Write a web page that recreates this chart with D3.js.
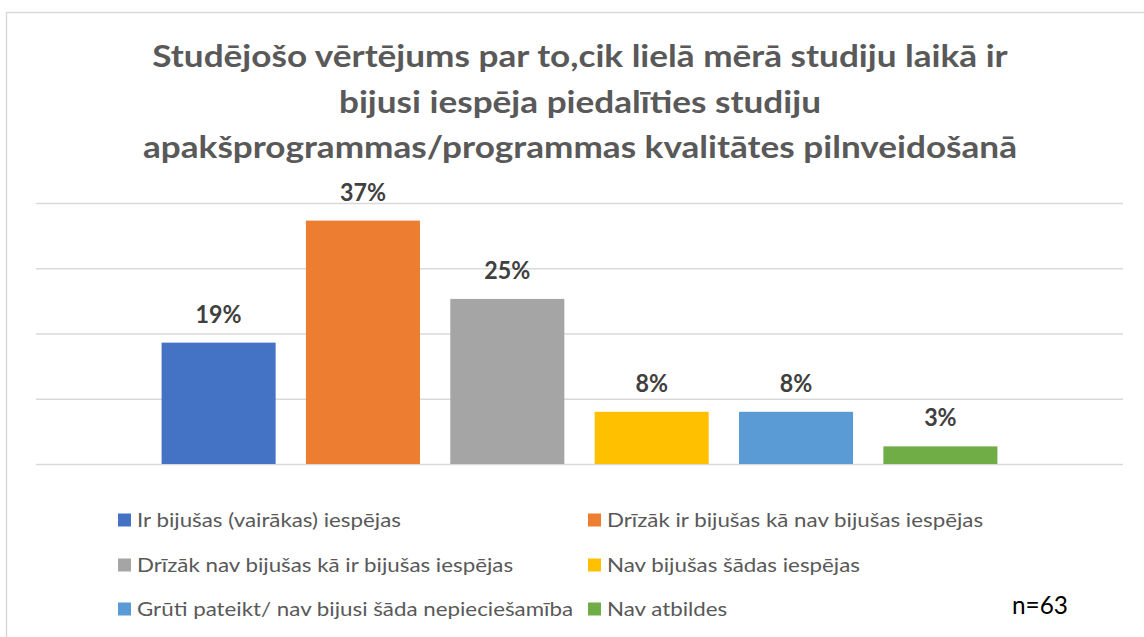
<!DOCTYPE html>
<html>
<head>
<meta charset="utf-8">
<script src="https://cdn.jsdelivr.net/npm/d3@7"></script>
<style>
  body { margin: 0; background: #fff; }
  svg { display: block; font-family: Lato, "Open Sans", sans-serif; }
</style>
</head>
<body>
<div id="chart"></div>
<script>
// data
const categories = [
  "Ir bijušas (vairākas) iespējas",
  "Drīzāk ir bijušas kā nav bijušas iespējas",
  "Drīzāk nav bijušas kā ir bijušas iespējas",
  "Nav bijušas šādas iespējas",
  "Grūti pateikt/ nav bijusi šāda nepieciešamība",
  "Nav atbildes"
];
const values = [18.6, 37.3, 25.3, 8.0, 8.0, 2.7];
const colors = ["#4472C4", "#ED7D31", "#A5A5A5", "#FFC000", "#5B9BD5", "#70AD47"];
const yTicks = [0, 10, 20, 30, 40];
const titleLines = [
  "Studējošo vērtējums par to,cik lielā mērā studiju laikā ir",
  "bijusi iespēja piedalīties studiju",
  "apakšprogrammas/programmas kvalitātes pilnveidošanā"
];
const noteText = "n=63";

const width = 1144, height = 637;
const plot = { left: 36, right: 1123, top: 203, bottom: 464 };

// squeeze a group of texts so the reference one hits a target width
function squeeze(sel, size, refIndex, target) {
  sel.attr("font-size", size);
  var k = target / sel.nodes()[refIndex].getComputedTextLength();
  sel.each(function () {
    var w = this.getComputedTextLength();
    d3.select(this)
      .attr("textLength", w * k)
      .attr("lengthAdjust", "spacingAndGlyphs");
  });
}

const svg = d3.select("#chart").append("svg")
  .attr("width", width)
  .attr("height", height);

// outer chart frame (only top/left visible in the crop)
svg.append("rect")
  .attr("x", 6.5).attr("y", 12.5)
  .attr("width", 1200).attr("height", 700)
  .attr("fill", "#fff")
  .attr("stroke", "#D9D9D9")
  .attr("stroke-width", 1.5);

const x = d3.scaleBand()
  .domain(categories)
  .range([plot.left, plot.right])
  .paddingInner(0.21)
  .paddingOuter(0.87);

const y = d3.scaleLinear()
  .domain([0, 40])
  .range([plot.bottom, plot.top]);

const color = d3.scaleOrdinal().domain(categories).range(colors);

// gridlines
const grid = svg.append("g")
  .attr("transform", "translate(" + plot.left + ",0)")
  .call(d3.axisLeft(y).tickValues(yTicks).tickSize(-(plot.right - plot.left)).tickFormat(""));
grid.select(".domain").remove();
grid.selectAll(".tick line").attr("stroke", "#D9D9D9").attr("stroke-width", 1.5);

// bars
svg.append("g").selectAll("rect")
  .data(values)
  .join("rect")
  .attr("x", (d, i) => x(categories[i]))
  .attr("y", d => y(d))
  .attr("width", x.bandwidth())
  .attr("height", d => y(0) - y(d))
  .attr("fill", (d, i) => color(categories[i]));

// value labels
const fmt = d3.format(".0f");
const labels = svg.append("g").selectAll("text")
  .data(values)
  .join("text")
  .attr("x", (d, i) => x(categories[i]) + x.bandwidth() / 2)
  .attr("y", d => y(d) - 20)
  .attr("text-anchor", "middle")
  .attr("fill", "#404040")
  .attr("font-weight", "bold")
  .text(d => fmt(d) + "%");
squeeze(labels, 24, 1, 46);

// title
const title = svg.append("g").selectAll("text")
  .data(titleLines)
  .join("text")
  .attr("x", 580)
  .attr("y", (d, i) => 67 + i * 45.5)
  .attr("text-anchor", "middle")
  .attr("fill", "#595959")
  .attr("font-weight", "bold")
  .text(d => d);
squeeze(title, 30.5, 2, 874);

// legend
const legendCols = [118, 588];
const legendRows = [520, 565, 609];
const legend = svg.append("g").selectAll("g")
  .data(categories)
  .join("g")
  .attr("transform", (d, i) => "translate(" + legendCols[i % 2] + "," + legendRows[Math.floor(i / 2)] + ")");
legend.append("rect")
  .attr("x", 0).attr("y", -6.5)
  .attr("width", 13).attr("height", 13)
  .attr("fill", d => color(d));
const legendText = legend.append("text")
  .attr("x", 19)
  .attr("dy", "0.35em")
  .attr("fill", "#595959")
  .text(d => d);
squeeze(legendText, 20, 4, 436);

// sample size note
const note = svg.append("text")
  .attr("x", 1012)
  .attr("y", 614)
  .attr("fill", "#000")
  .text(noteText);
squeeze(note, 25, 0, 56);
</script>
</body>
</html>
